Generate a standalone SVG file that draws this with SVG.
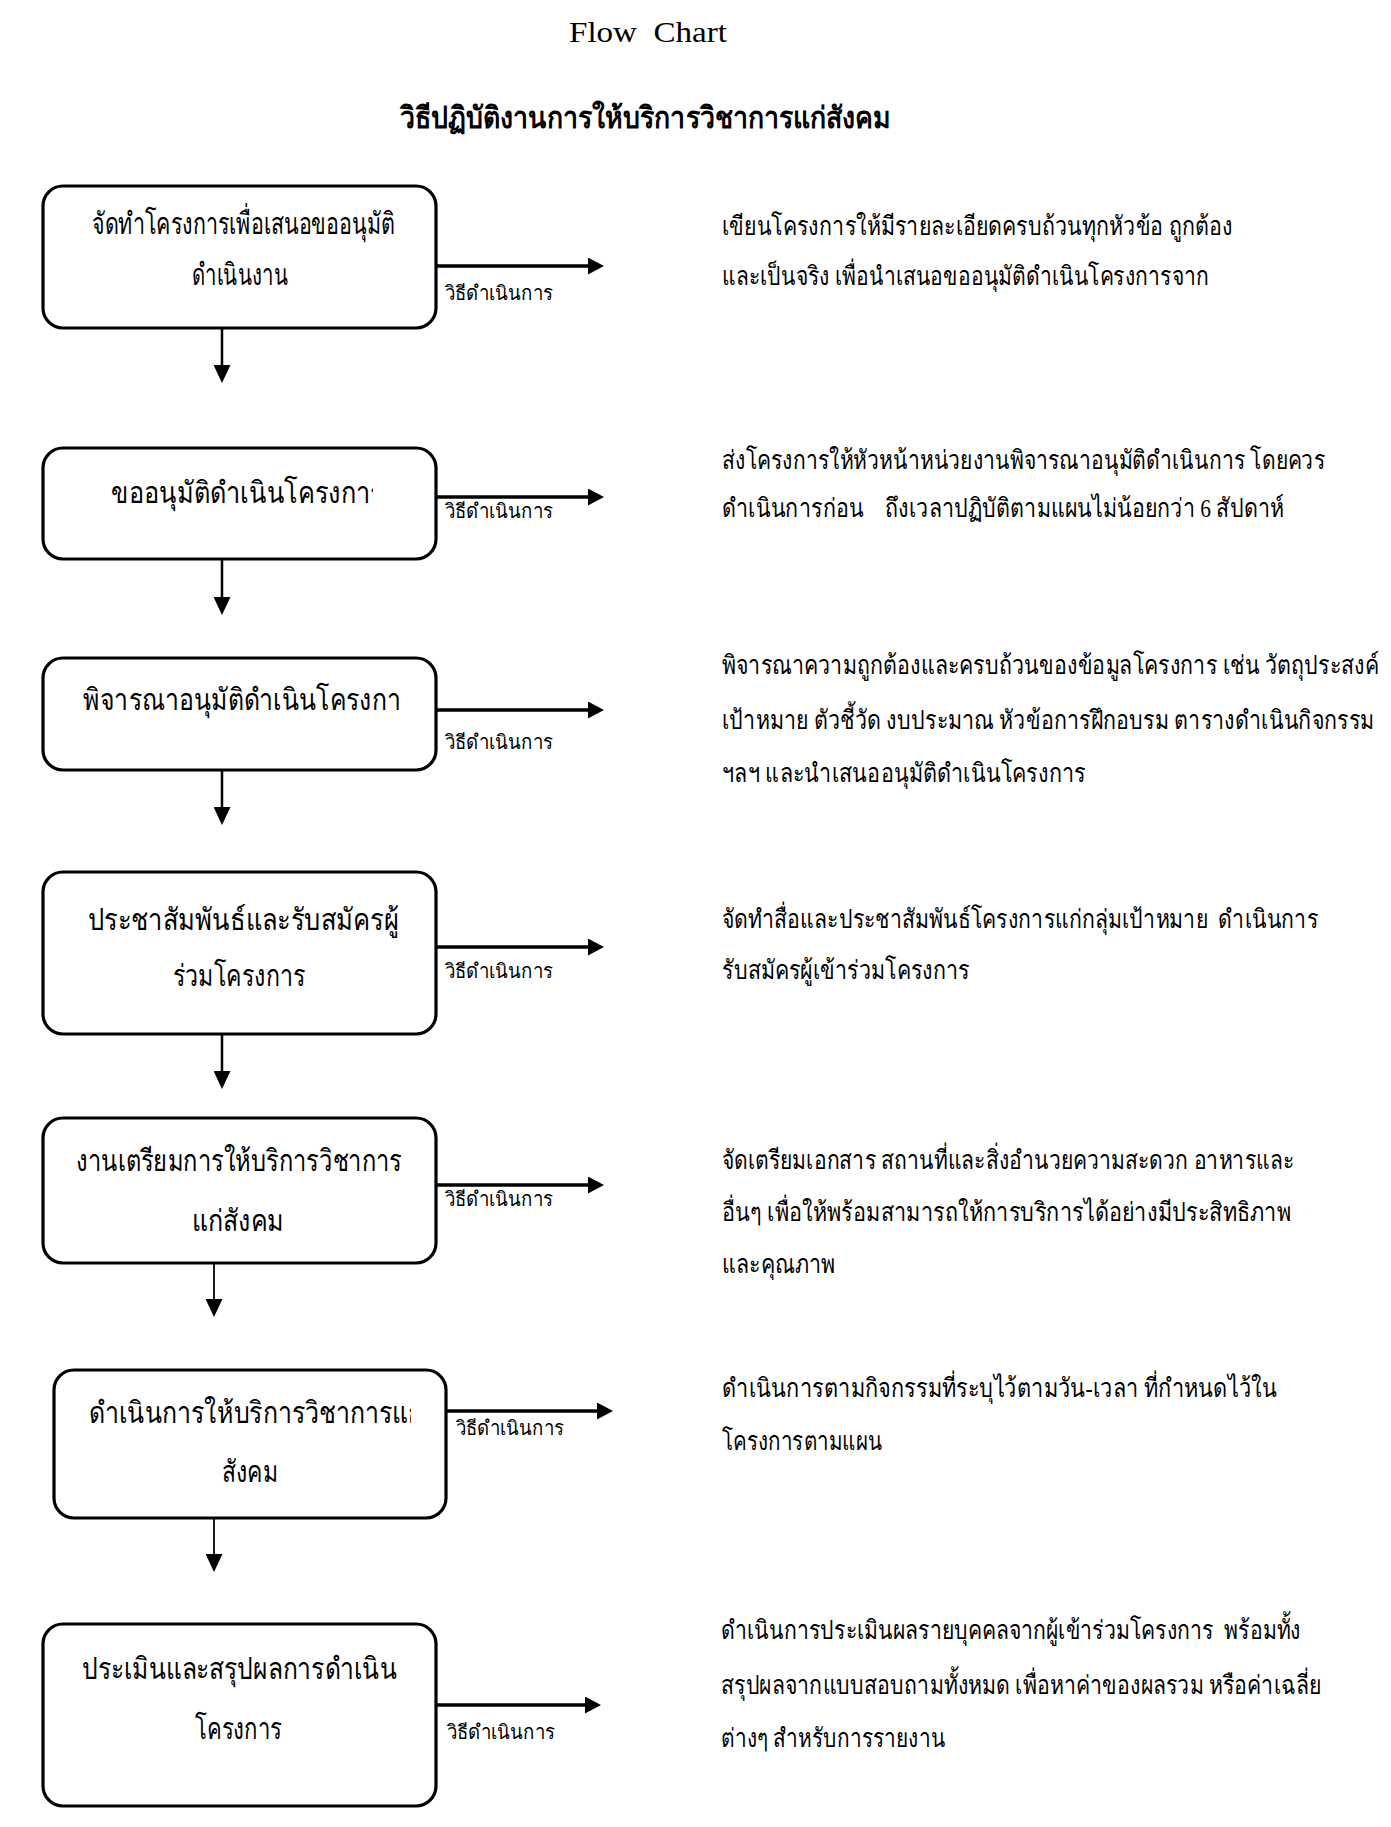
<svg xmlns="http://www.w3.org/2000/svg" width="1391" height="1827" viewBox="0 0 1391 1827">
<style>
.bg{fill:#fff}
.box{fill:#fff;stroke:#000;stroke-width:3.2}
.t{font-family:"Liberation Serif","Noto Sans",serif;fill:#000;white-space:pre}
.nt{font-size:30px}
.rt{font-size:26px}
.lb{font-size:20px}
.ra{stroke:#000;stroke-width:3.5;fill:none}
.da{stroke:#000;stroke-width:2.5;fill:none}
.da2{stroke:#000;stroke-width:1.8;fill:none}
</style>
<defs>
<marker id="ahr" markerUnits="userSpaceOnUse" viewBox="0 0 16 17" refX="0" refY="8.5" markerWidth="16" markerHeight="17" orient="auto"><path d="M0,0 L16,8.5 L0,17 z" fill="#000"/></marker>
<marker id="ahd" markerUnits="userSpaceOnUse" viewBox="0 0 18 17" refX="0" refY="8.5" markerWidth="18" markerHeight="17" orient="auto"><path d="M0,0 L18,8.5 L0,17 z" fill="#000"/></marker>
<clipPath id="c2"><rect x="0" y="440" width="373" height="120"/></clipPath>
<clipPath id="c3"><rect x="0" y="650" width="402" height="120"/></clipPath>
<clipPath id="c6"><rect x="0" y="1370" width="411" height="80"/></clipPath>
</defs>
<rect class="bg" x="0" y="0" width="1391" height="1827"/>

<g id="title">
<text class="t" x="569" y="42" font-size="30" textLength="158" lengthAdjust="spacingAndGlyphs">Flow  Chart</text>
<text class="t" x="400" y="128" font-size="30" font-weight="bold" textLength="491" lengthAdjust="spacingAndGlyphs">วิธีปฏิบัติงานการให้บริการวิชาการแก่สังคม</text>
</g>

<g id="node1">
<rect class="box" x="43" y="186" width="393" height="142" rx="20"/>
<text class="t nt" x="92" y="234" textLength="303" lengthAdjust="spacingAndGlyphs">จัดทำโครงการเพื่อเสนอขออนุมัติ</text>
<text class="t nt" x="192" y="285" textLength="96" lengthAdjust="spacingAndGlyphs">ดำเนินงาน</text>
</g>
<g id="node2">
<rect class="box" x="43" y="448" width="393" height="111" rx="20"/>
<text class="t nt" x="111" y="503" textLength="273" lengthAdjust="spacingAndGlyphs" clip-path="url(#c2)">ขออนุมัติดำเนินโครงการ</text>
</g>
<g id="node3">
<rect class="box" x="43" y="658" width="393" height="112" rx="20"/>
<text class="t nt" x="83" y="710" textLength="331" lengthAdjust="spacingAndGlyphs" clip-path="url(#c3)">พิจารณาอนุมัติดำเนินโครงการ</text>
</g>
<g id="node4">
<rect class="box" x="43" y="872" width="393" height="162" rx="20"/>
<text class="t nt" x="88" y="930" textLength="311" lengthAdjust="spacingAndGlyphs">ประชาสัมพันธ์และรับสมัครผู้</text>
<text class="t nt" x="173" y="986" textLength="132" lengthAdjust="spacingAndGlyphs">ร่วมโครงการ</text>
</g>
<g id="node5">
<rect class="box" x="43" y="1118" width="393" height="145" rx="20"/>
<text class="t nt" x="76" y="1171" textLength="326" lengthAdjust="spacingAndGlyphs">งานเตรียมการให้บริการวิชาการ</text>
<text class="t nt" x="192" y="1231" textLength="92" lengthAdjust="spacingAndGlyphs">แก่สังคม</text>
</g>
<g id="node6">
<rect class="box" x="54" y="1370" width="392" height="148" rx="20"/>
<text class="t nt" x="89" y="1423" textLength="334" lengthAdjust="spacingAndGlyphs" clip-path="url(#c6)">ดำเนินการให้บริการวิชาการแก่</text>
<text class="t nt" x="222" y="1482" textLength="56" lengthAdjust="spacingAndGlyphs">สังคม</text>
</g>
<g id="node7">
<rect class="box" x="43" y="1624" width="393" height="182" rx="20"/>
<text class="t nt" x="82" y="1679" textLength="315" lengthAdjust="spacingAndGlyphs">ประเมินและสรุปผลการดำเนิน</text>
<text class="t nt" x="195" y="1739" textLength="87" lengthAdjust="spacingAndGlyphs">โครงการ</text>
</g>

<g id="connectors">
<line class="da" x1="222" y1="328" x2="222" y2="365" marker-end="url(#ahd)"/>
<line class="da" x1="222" y1="559" x2="222" y2="597" marker-end="url(#ahd)"/>
<line class="da" x1="222" y1="770" x2="222" y2="807" marker-end="url(#ahd)"/>
<line class="da" x1="222" y1="1034" x2="222" y2="1071" marker-end="url(#ahd)"/>
<line class="da2" x1="214" y1="1263" x2="214" y2="1299" marker-end="url(#ahd)"/>
<line class="da2" x1="214" y1="1518" x2="214" y2="1554" marker-end="url(#ahd)"/>

<line class="ra" x1="436" y1="266" x2="588" y2="266" marker-end="url(#ahr)"/>
<line class="ra" x1="436" y1="497" x2="588" y2="497" marker-end="url(#ahr)"/>
<line class="ra" x1="436" y1="710" x2="588" y2="710" marker-end="url(#ahr)"/>
<line class="ra" x1="436" y1="947" x2="588" y2="947" marker-end="url(#ahr)"/>
<line class="ra" x1="436" y1="1185" x2="588" y2="1185" marker-end="url(#ahr)"/>
<line class="ra" x1="446" y1="1411" x2="597" y2="1411" marker-end="url(#ahr)"/>
<line class="ra" x1="436" y1="1705" x2="585" y2="1705" marker-end="url(#ahr)"/>

<text class="t lb" x="445" y="300" textLength="108" lengthAdjust="spacingAndGlyphs">วิธีดำเนินการ</text>
<text class="t lb" x="445" y="518" textLength="108" lengthAdjust="spacingAndGlyphs">วิธีดำเนินการ</text>
<text class="t lb" x="445" y="749" textLength="108" lengthAdjust="spacingAndGlyphs">วิธีดำเนินการ</text>
<text class="t lb" x="445" y="978" textLength="108" lengthAdjust="spacingAndGlyphs">วิธีดำเนินการ</text>
<text class="t lb" x="445" y="1206" textLength="108" lengthAdjust="spacingAndGlyphs">วิธีดำเนินการ</text>
<text class="t lb" x="456" y="1435" textLength="108" lengthAdjust="spacingAndGlyphs">วิธีดำเนินการ</text>
<text class="t lb" x="447" y="1739" textLength="108" lengthAdjust="spacingAndGlyphs">วิธีดำเนินการ</text>
</g>

<g id="descriptions">
<text class="t rt" x="722" y="235" textLength="511" lengthAdjust="spacingAndGlyphs">เขียนโครงการให้มีรายละเอียดครบถ้วนทุกหัวข้อ ถูกต้อง</text>
<text class="t rt" x="722" y="285" textLength="487" lengthAdjust="spacingAndGlyphs">และเป็นจริง เพื่อนำเสนอขออนุมัติดำเนินโครงการจาก</text>

<text class="t rt" x="722" y="469" textLength="603" lengthAdjust="spacingAndGlyphs">ส่งโครงการให้หัวหน้าหน่วยงานพิจารณาอนุมัติดำเนินการ โดยควร</text>
<text class="t rt" x="722" y="517" textLength="562" lengthAdjust="spacingAndGlyphs">ดำเนินการก่อน    ถึงเวลาปฏิบัติตามแผนไม่น้อยกว่า 6 สัปดาห์</text>

<text class="t rt" x="722" y="674" textLength="657" lengthAdjust="spacingAndGlyphs">พิจารณาความถูกต้องและครบถ้วนของข้อมูลโครงการ เช่น วัตถุประสงค์</text>
<text class="t rt" x="722" y="729" textLength="652" lengthAdjust="spacingAndGlyphs">เป้าหมาย ตัวชี้วัด งบประมาณ หัวข้อการฝึกอบรม ตารางดำเนินกิจกรรม</text>
<text class="t rt" x="722" y="782" textLength="364" lengthAdjust="spacingAndGlyphs">ฯลฯ และนำเสนออนุมัติดำเนินโครงการ</text>

<text class="t rt" x="722" y="928" textLength="596" lengthAdjust="spacingAndGlyphs">จัดทำสื่อและประชาสัมพันธ์โครงการแก่กลุ่มเป้าหมาย  ดำเนินการ</text>
<text class="t rt" x="722" y="979" textLength="248" lengthAdjust="spacingAndGlyphs">รับสมัครผู้เข้าร่วมโครงการ</text>

<text class="t rt" x="722" y="1169" textLength="572" lengthAdjust="spacingAndGlyphs">จัดเตรียมเอกสาร สถานที่และสิ่งอำนวยความสะดวก อาหารและ</text>
<text class="t rt" x="722" y="1221" textLength="569" lengthAdjust="spacingAndGlyphs">อื่นๆ เพื่อให้พร้อมสามารถให้การบริการได้อย่างมีประสิทธิภาพ</text>
<text class="t rt" x="722" y="1273" textLength="113" lengthAdjust="spacingAndGlyphs">และคุณภาพ</text>

<text class="t rt" x="722" y="1397" textLength="555" lengthAdjust="spacingAndGlyphs">ดำเนินการตามกิจกรรมที่ระบุไว้ตามวัน-เวลา ที่กำหนดไว้ใน</text>
<text class="t rt" x="722" y="1450" textLength="160" lengthAdjust="spacingAndGlyphs">โครงการตามแผน</text>

<text class="t rt" x="721" y="1639" textLength="580" lengthAdjust="spacingAndGlyphs">ดำเนินการประเมินผลรายบุคคลจากผู้เข้าร่วมโครงการ  พร้อมทั้ง</text>
<text class="t rt" x="721" y="1694" textLength="600" lengthAdjust="spacingAndGlyphs">สรุปผลจากแบบสอบถามทั้งหมด เพื่อหาค่าของผลรวม หรือค่าเฉลี่ย</text>
<text class="t rt" x="721" y="1747" textLength="224" lengthAdjust="spacingAndGlyphs">ต่างๆ สำหรับการรายงาน</text>
</g>
</svg>
